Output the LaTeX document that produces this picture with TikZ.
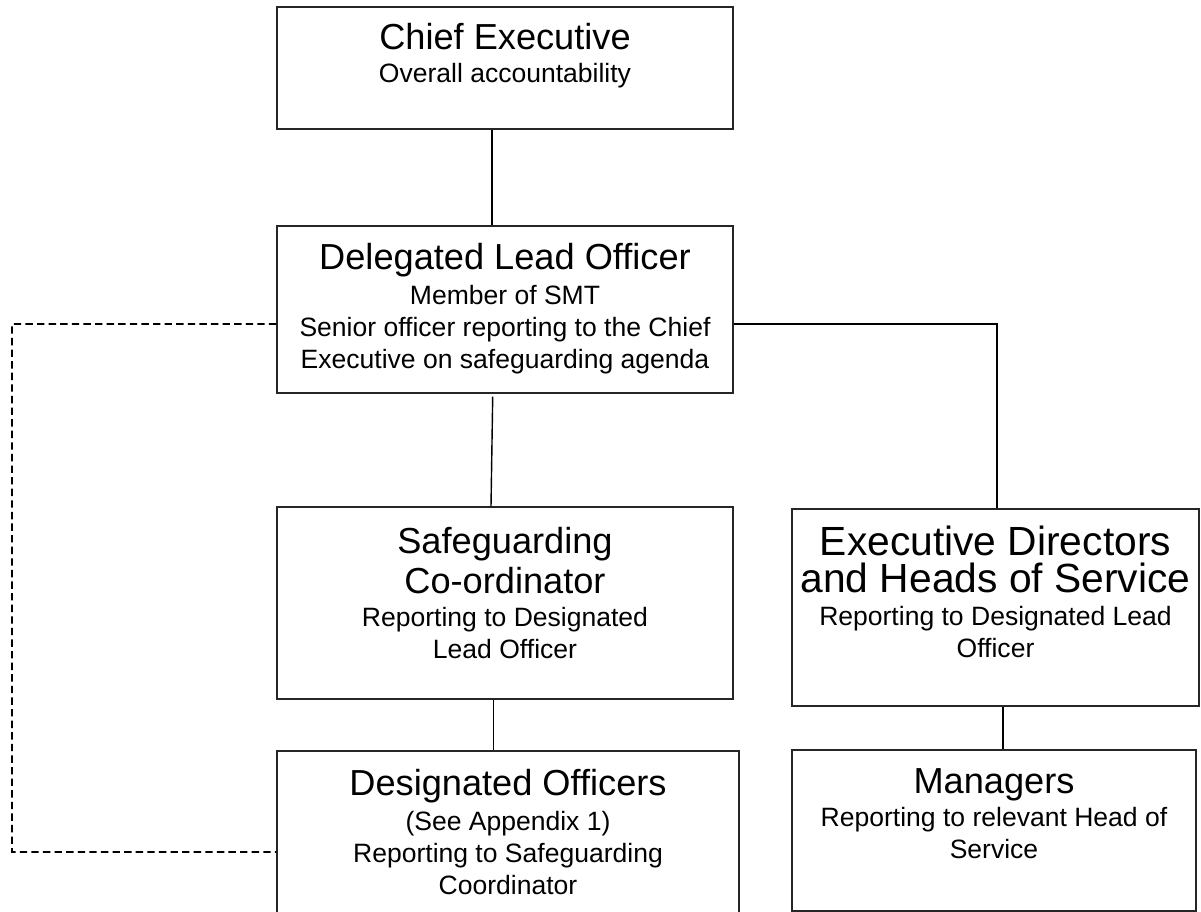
\documentclass[tikz,border=0pt]{standalone}
\usepackage{fontspec}
\setmainfont{Liberation Sans}
\usetikzlibrary{calc}
\newcommand{\ttlfont}{\fontsize{20.6pt}{23.5pt}\selectfont}
\newcommand{\bigttlfont}{\fontsize{23.2pt}{26pt}\selectfont}
\newcommand{\sbtfont}{\fontsize{15.1pt}{18.2pt}\selectfont\lineskiplimit=-50pt\relax}
\begin{document}
\begin{tikzpicture}[x=0.02cm,y=-0.02cm,
  box/.style={draw=black!85, line width=0.8pt, inner sep=0pt},
  lbl/.style={anchor=north, inner sep=0pt, align=center, font=\sbtfont},
  con/.style={draw=black, line width=0.8pt},
  dsh/.style={draw=black, line width=1pt, dash pattern=on 4.2pt off 2.4pt}]
\useasboundingbox (0,0) rectangle (1201,912);
\clip (0,0) rectangle (1201,912);
% boxes
\node[box, minimum width=9.12cm, minimum height=2.44cm] (ce) at (505,68) {};
\node[box, minimum width=9.12cm, minimum height=3.34cm] (dlo) at (505,309.5) {};
\node[box, minimum width=9.12cm, minimum height=3.84cm] (sc) at (505,603) {};
\node[box, minimum width=9.24cm, minimum height=4.18cm] (do) at (508,855.5) {};
\node[box, minimum width=8.14cm, minimum height=3.94cm] (edhs) at (995.5,607.5) {};
\node[box, minimum width=8.08cm, minimum height=3.22cm] (mgr) at (994,830.5) {};
% texts
\node[lbl] (ceT) at ([yshift=-0.34cm]ce.north) {{\ttlfont Chief Executive}\\[0.5pt]Overall accountability};
\node[lbl] (dloT) at ([yshift=-0.36cm]dlo.north) {{\ttlfont Delegated Lead Officer}\\[1.5pt]Member of SMT\\Senior officer reporting to the Chief\\Executive on safeguarding agenda};
\node[lbl] (scT) at ([yshift=-0.42cm]sc.north) {{\ttlfont Safeguarding}\\[4.5pt]{\ttlfont Co-ordinator}\\[0.5pt]Reporting to Designated\\Lead Officer};
\node[lbl] (edhsT) at ([yshift=-0.34cm]edhs.north) {{\bigttlfont Executive Directors}\\[3pt]{\bigttlfont and Heads of Service}\\[0.5pt]Reporting to Designated Lead\\Officer};
\node[lbl] (doT) at ([yshift=-0.38cm]do.north) {{\ttlfont Designated Officers}\\[1.5pt](See Appendix 1)\\Reporting to Safeguarding\\Coordinator};
\node[lbl] (mgrT) at ([yshift=-0.38cm]mgr.north) {{\ttlfont Managers}\\[0.5pt]Reporting to relevant Head of\\Service};
% connectors
\draw[con] ([xshift=-0.26cm]ce.south) coordinate (a1) -- (a1 |- dlo.north);
\draw[con] ([xshift=-0.246cm,yshift=-0.06cm]dlo.south) -- ([xshift=-0.28cm]sc.north);
\draw[con] ([yshift=-0.29cm]dlo.east) -| ([xshift=0.03cm]edhs.north);
\draw[con] ([xshift=-0.234cm]sc.south) coordinate (a2) -- (a2 |- do.north);
\draw[con] ([xshift=0.15cm]edhs.south) coordinate (a3) -- (a3 |- mgr.north);
\coordinate (dA) at (12,324);
\coordinate (dB) at (12,852);
\draw[dsh] ([yshift=-0.29cm]dlo.west) -- (dA) -- (dB) -- (dB -| do.west);
\end{tikzpicture}
\end{document}
